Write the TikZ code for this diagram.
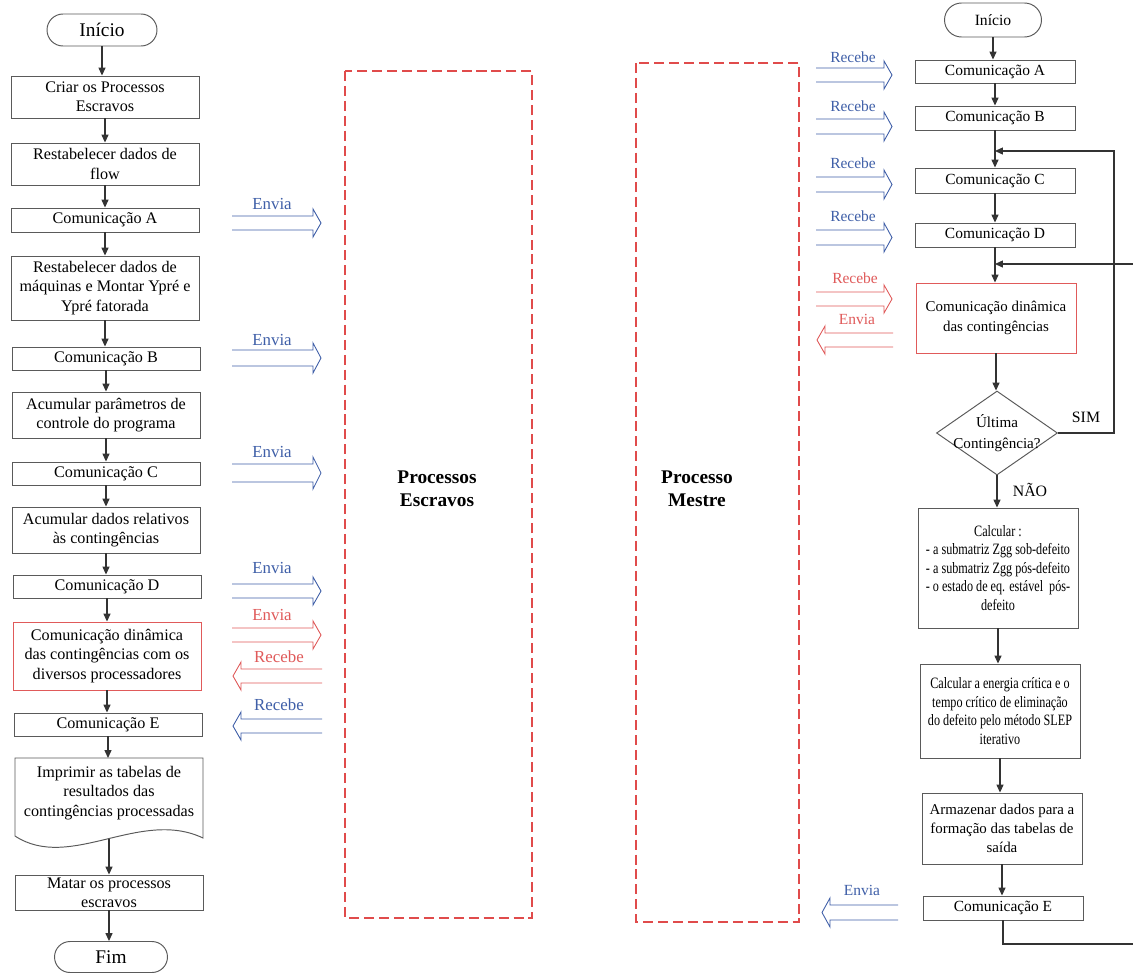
\documentclass[tikz,border=0pt]{standalone}
\usepackage{fontspec}
\setmainfont{Liberation Serif}
\newfontfamily\narrowserif[FakeStretch=0.77]{Liberation Serif}
\usetikzlibrary{arrows.meta,shapes.misc,shapes.geometric}

\definecolor{edgegray}{HTML}{5A5A5A}
\definecolor{flowgray}{HTML}{333333}
\definecolor{msgblue}{HTML}{3F5FA8}
\definecolor{msgred}{HTML}{E05A5A}
\definecolor{framered}{HTML}{E04B4B}

% double-shafted open arrow pointing right: style, x tail, x tip, y upper, y lower
\newcommand\dblarrowR[5]{%
  \draw[#1] (#2,#4) -- ({#3-8},#4) -- ({#3-8},{#4-7}) -- (#3,{(#4+#5)/2})
    -- ({#3-8},{#5+7}) -- ({#3-8},#5) -- (#2,#5);}
% double-shafted open arrow pointing left: style, x tip, x tail, y upper, y lower
\newcommand\dblarrowL[5]{%
  \draw[#1] (#3,#4) -- ({#2+8},#4) -- ({#2+8},{#4-7}) -- (#2,{(#4+#5)/2})
    -- ({#2+8},{#5+7}) -- ({#2+8},#5) -- (#3,#5);}

\tikzset{
  box/.style={draw=edgegray, line width=0.55pt, align=center, inner sep=1pt,
    font=\fontsize{9.2}{11}\selectfont},
  lbox/.style={box, minimum width=3.76cm},
  rbox/.style={box, minimum width=3.2cm, font=\fontsize{8.8}{10.5}\selectfont},
  narrowtext/.style={font=\narrowserif\fontsize{9}{10.5}\selectfont},
  term/.style={rounded rectangle, draw=edgegray, line width=0.55pt, inner sep=0pt},
  flowline/.style={draw=flowgray, line width=0.6pt, -{Triangle[length=4.5pt,width=4pt]}},
  blueshaft/.style={draw=msgblue, line width=0.5pt},
  redshaft/.style={draw=msgred, line width=0.5pt},
  lblue/.style={text=msgblue, inner sep=0pt, font=\fontsize{9.6}{11}\selectfont},
  lred/.style={text=msgred, inner sep=0pt, font=\fontsize{9.6}{11}\selectfont},
  rblue/.style={text=msgblue, inner sep=0pt, font=\fontsize{8.8}{10}\selectfont},
  rred/.style={text=msgred, inner sep=0pt, font=\fontsize{8.8}{10}\selectfont},
  dashframe/.style={draw=framered, line width=0.85pt, dash pattern=on 5.7pt off 2.8pt},
  bigtitle/.style={align=center, font=\bfseries\fontsize{11}{13}\selectfont},
}

\begin{document}
\begin{tikzpicture}[x=0.02cm, y=-0.02cm]
\useasboundingbox (0,0) rectangle (1133,974);
\fill[white] (0,0) rectangle (1133,974);

% ---------- slave process (left column) ----------
\node[term, minimum width=2.2cm, minimum height=0.64cm, font=\fontsize{11}{13}\selectfont] (ini) at (102,30) {Início};
\node[lbox, minimum height=0.84cm] (b1) at (105,97) {Criar os Processos\\Escravos};
\node[lbox, minimum height=0.84cm] (b2) at (105,164) {Restabelecer dados de\\flow};
\node[lbox, minimum height=0.48cm] (cA) at (105,220) {Comunicação A};
\node[lbox, minimum height=1.28cm] (b4) at (105,288) {Restabelecer dados de\\máquinas e Montar Ypré e\\Ypré fatorada};
\node[lbox, minimum height=0.46cm] (cB) at (106,358.5) {Comunicação B};
\node[lbox, minimum height=0.92cm] (b6) at (106,415) {Acumular parâmetros de\\controle do programa};
\node[lbox, minimum height=0.46cm] (cC) at (106,473.5) {Comunicação C};
\node[lbox, minimum height=0.92cm] (b8) at (106,530) {Acumular dados relativos\\às contingências};
\node[lbox, minimum height=0.46cm] (cD) at (107,586.5) {Comunicação D};
\node[lbox, draw=msgred, minimum height=1.36cm] (bR) at (107,656) {Comunicação dinâmica\\das contingências com os\\diversos processadores};
\node[lbox, minimum height=0.46cm] (cE) at (108,724.5) {Comunicação E};
% document symbol with wavy lower edge
\draw[draw=edgegray, line width=0.55pt] (15,758) -- (203,758) -- (203,838)
  .. controls (140,808) and (70,872) .. (15,836) -- cycle;
\node[align=center, inner sep=0pt, font=\fontsize{9.2}{11}\selectfont] (doc) at (109,793) {Imprimir as tabelas de\\resultados das\\contingências processadas};
\coordinate (doct) at (109,758);
\coordinate (docb) at (109,839);
\node[lbox, minimum height=0.7cm] (matar) at (109,892.5) {Matar os processos\\escravos};
\node[term, minimum width=2.26cm, minimum height=0.62cm, font=\fontsize{11}{13}\selectfont] (fim) at (111,957) {Fim};

\draw[flowline] (ini.south) -- (ini.south |- b1.north);
\draw[flowline] (b1.south) -- (b1.south |- b2.north);
\draw[flowline] (b2.south) -- (b2.south |- cA.north);
\draw[flowline] (cA.south) -- (cA.south |- b4.north);
\draw[flowline] (b4.south) -- (b4.south |- cB.north);
\draw[flowline] (cB.south) -- (cB.south |- b6.north);
\draw[flowline] (b6.south) -- (b6.south |- cC.north);
\draw[flowline] (cC.south) -- (cC.south |- b8.north);
\draw[flowline] (b8.south) -- (b8.south |- cD.north);
\draw[flowline] (cD.south) -- (cD.south |- bR.north);
\draw[flowline] (bR.south) -- (bR.south |- cE.north);
\draw[flowline] (cE.south) -- (cE.south |- doct);
\draw[flowline] (docb) -- (docb |- matar.north);
\draw[flowline] (matar.south) -- (matar.south |- fim.north);

% messages of the slave process
\node[lblue] (sA) at (272,204) {Envia};
\dblarrowR{blueshaft}{232}{321}{216}{230}
\node[lblue] (sB) at (272,340) {Envia};
\dblarrowR{blueshaft}{232}{321}{350}{366}
\node[lblue] (sC) at (272,452) {Envia};
\dblarrowR{blueshaft}{232}{321}{464}{482}
\node[lblue] (sD) at (272,568) {Envia};
\dblarrowR{blueshaft}{232}{321}{584}{598}
\node[lred] (sRe) at (272,615) {Envia};
\dblarrowR{redshaft}{232}{321}{628}{642}
\node[lred] (sRr) at (279,657) {Recebe};
\dblarrowL{redshaft}{233}{322}{669}{683}
\node[lblue] (sEr) at (279,705) {Recebe};
\dblarrowL{blueshaft}{233}{322}{719}{733}

% ---------- process frames ----------
\draw[dashframe] (345,71) rectangle (532,918);
\node[bigtitle] (slaves) at (437,489) {Processos\\Escravos};
\draw[dashframe] (636,63) rectangle (799,922);
\node[bigtitle] (master) at (697,489) {Processo\\Mestre};

% ---------- master process (right column) ----------
\node[term, minimum width=1.94cm, minimum height=0.68cm, font=\fontsize{8.9}{10}\selectfont] (ri) at (993,20) {Início};
\node[rbox, minimum height=0.46cm] (rA) at (995,71.5) {Comunicação A};
\node[rbox, minimum height=0.48cm] (rB) at (995,118) {Comunicação B};
\node[rbox, minimum height=0.5cm] (rC) at (995,180.5) {Comunicação C};
\node[rbox, minimum height=0.48cm] (rD) at (995,235) {Comunicação D};
\node[rbox, draw=msgred, minimum height=1.4cm, font=\fontsize{8.5}{11.3}\selectfont] (rR) at (996,318) {Comunicação dinâmica\\das contingências};
\node[diamond, draw=edgegray, line width=0.55pt, minimum width=2.42cm, minimum height=1.68cm, inner sep=0pt] (dec) at (997,433) {};
\node[align=center, inner sep=0pt, font=\fontsize{8.6}{12}\selectfont] (decT) at (dec) {Última\\Contingência?};
\node[rbox, narrowtext, minimum height=2.4cm] (calc) at (998,568) {Calcular :\\- a submatriz Zgg sob-defeito\\- a submatriz Zgg pós-defeito\\- o estado de eq. estável~ pós-\\defeito};
\node[rbox, narrowtext, minimum height=1.88cm] (ener) at (1000,711) {Calcular a energia crítica e o\\tempo crítico de eliminação\\do defeito pelo método SLEP\\iterativo};
\node[rbox, minimum height=1.42cm, font=\fontsize{8.5}{11}\selectfont] (arm) at (1002,828.5) {Armazenar dados para a\\formação das tabelas de\\saída};
\node[rbox, minimum height=0.48cm] (rE) at (1003,908) {Comunicação E};

\coordinate (jC) at (995,151);
\coordinate (jR) at (995,264);
\coordinate (simR) at (1114,433);
\coordinate (simT) at (1114,151);
\coordinate (outB) at (1003,944);
\coordinate (outBR) at (1140,944);
\coordinate (outTR) at (1140,264);

\draw[flowline] (ri.south) -- (ri.south |- rA.north);
\draw[flowline] (rA.south) -- (rA.south |- rB.north);
\draw[flowline] (rB.south) -- (rB.south |- rC.north);
\draw[flowline] (rC.south) -- (rC.south |- rD.north);
\draw[flowline] (rD.south) -- (rD.south |- rR.north);
\draw[flowline] (rR.south) -- (rR.south |- dec.north);
\draw[flowline] (dec.south) -- (dec.south |- calc.north);
\draw[flowline] (calc.south) -- (calc.south |- ener.north);
\draw[flowline] (ener.south) -- (ener.south |- arm.north);
\draw[flowline] (arm.south) -- (arm.south |- rE.north);
\draw[flowline] (dec.east) -- (simR) -- (simT) -- (jC);
\draw[flowline] (rE.south) -- (outB) -- (outBR) -- (outTR) -- (jR);
\node[inner sep=0pt, font=\fontsize{9}{10}\selectfont] (simL) at (1086,417) {SIM};
\node[inner sep=0pt, font=\fontsize{9}{10}\selectfont] (naoL) at (1030,490) {NÃO};

% messages of the master process
\node[rblue] (mA) at (853,57) {Recebe};
\dblarrowR{blueshaft}{816}{892}{68}{82}
\node[rblue] (mB) at (853,106) {Recebe};
\dblarrowR{blueshaft}{816}{892}{119}{134}
\node[rblue] (mC) at (853,163) {Recebe};
\dblarrowR{blueshaft}{816}{892}{177}{192}
\node[rblue] (mD) at (853,216) {Recebe};
\dblarrowR{blueshaft}{816}{892}{230}{245}
\node[rred] (mRr) at (855,278) {Recebe};
\dblarrowR{redshaft}{816}{892}{292}{306}
\node[rred] (mRe) at (857,319) {Envia};
\dblarrowL{redshaft}{817}{893}{333}{347}
\node[rblue] (mEe) at (862,890) {Envia};
\dblarrowL{blueshaft}{822}{898}{905}{920}
\end{tikzpicture}
\end{document}
